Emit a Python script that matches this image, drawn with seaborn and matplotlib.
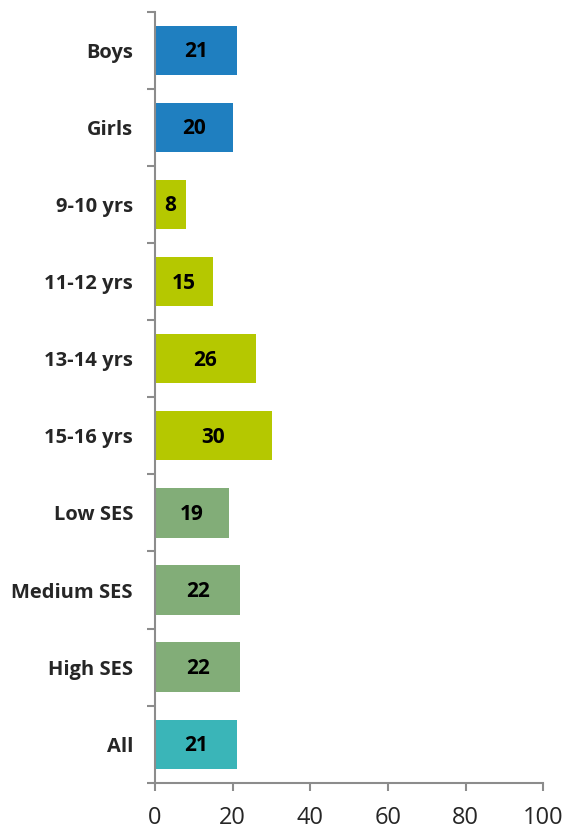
import matplotlib
matplotlib.use("Agg")
import matplotlib.pyplot as plt
import seaborn as sns
import pandas as pd
import numpy as np
from matplotlib.ticker import FixedLocator

categories = ["Boys", "Girls", "9-10 yrs", "11-12 yrs", "13-14 yrs", "15-16 yrs",
              "Low SES", "Medium SES", "High SES", "All"]
values = [21, 20, 8, 15, 26, 30, 19, 22, 22, 21]
groups = ["gender", "gender", "age", "age", "age", "age", "ses", "ses", "ses", "all"]
group_colors = {"gender": "#1F7FC0", "age": "#B5C800", "ses": "#82AD78", "all": "#3AB5B8"}
x_ticks = [0, 20, 40, 60, 80, 100]

df = pd.DataFrame({"category": categories, "value": values})
palette = {c: group_colors[g] for c, g in zip(categories, groups)}

sns.set_theme(style="white")
plt.rcParams["font.family"] = ["Open Sans", "DejaVu Sans"]

fig = plt.figure(figsize=(5.64, 8.31), dpi=100)
ax = fig.add_axes([0.275, 0.058, 0.688, 0.928])

sns.barplot(data=df, x="value", y="category", hue="category", palette=palette,
            order=categories, legend=False, width=0.64, orient="h", ax=ax,
            saturation=1, linewidth=0)

for i, v in enumerate(values):
    ax.text(v / 2, i + 0.02, f"{v}", ha="center", va="center", fontsize=15,
            fontweight="bold", color="black")

ax.set_xlim(0, 100)
ax.set_ylim(len(categories) - 0.5, -0.5)
ax.set_xticks(x_ticks)
ax.set_xticklabels([str(t) for t in x_ticks], fontsize=17)
ax.set_yticks(range(len(categories)))
ax.set_yticklabels(categories, fontsize=14.5, fontweight="bold")
ax.yaxis.set_minor_locator(FixedLocator(np.arange(-0.5, len(categories), 1.0)))
ax.tick_params(axis="y", which="major", length=0, pad=16)
ax.tick_params(axis="y", which="minor", length=6, width=1.5, color="#8c8c8c", direction="out", left=True)
ax.tick_params(axis="x", which="major", length=6, width=1.5, color="#8c8c8c", direction="out", bottom=True, pad=11)
ax.set_xlabel("")
ax.set_ylabel("")

for side in ["top", "right"]:
    ax.spines[side].set_visible(False)
for side in ["left", "bottom"]:
    ax.spines[side].set_color("#8c8c8c")
    ax.spines[side].set_linewidth(1.5)

fig.savefig("out.png", dpi=100)
